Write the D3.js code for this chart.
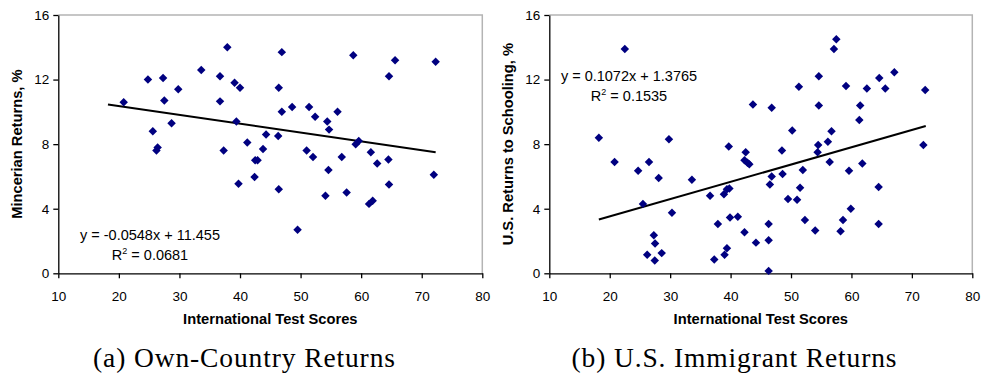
<!DOCTYPE html>
<html>
<head>
<meta charset="utf-8">
<script src="https://cdn.jsdelivr.net/npm/d3@7"></script>
<style>
  html, body { margin: 0; padding: 0; background: #fff; }
  svg { display: block; }
  text { font-family: "Liberation Sans", Arial, Helvetica, sans-serif; fill: #000; }
  .cap { font-family: "Liberation Serif", "Times New Roman", serif; }
</style>
</head>
<body>
<svg id="chart" width="982" height="383"></svg>
<script>
// ---------- data ----------
const xTicks = [10, 20, 30, 40, 50, 60, 70, 80];
const yTicks = [0, 4, 8, 12, 16];
const xDomain = [10, 80];
const yDomain = [0, 16];
const trendRange = [18.2, 72.3];

// Panel (a): Own-Country Returns
const ownX = [20.8, 24.8, 27.3, 29.8, 33.6, 36.7, 37.9, 39.1, 40.0, 27.5, 36.7, 28.7, 39.4, 25.6, 41.2,
  26.4, 26.2, 37.3, 46.9, 46.4, 58.7, 65.6, 72.3, 64.6, 46.9, 48.6, 51.4, 52.4, 56.1, 54.4,
  54.7, 44.3, 46.3, 43.8, 42.5, 42.9, 51.0, 52.05, 56.8, 59.1, 59.6, 61.6, 64.5, 39.75, 42.4,
  46.4, 54.6, 54.1, 57.6, 49.5, 62.65, 64.6, 61.3, 61.9, 72.0];
const ownY = [10.6, 12.0, 12.1, 11.4, 12.6, 12.2, 14.0, 11.8, 11.5, 10.7, 10.65, 9.3, 9.4, 8.8, 8.1,
  7.8, 7.6, 7.6, 13.7, 11.5, 13.5, 13.2, 13.1, 12.2, 10.0, 10.3, 10.3, 9.7, 10.0, 9.4,
  8.9, 8.6, 8.5, 7.7, 7.0, 7.0, 7.6, 7.2, 7.2, 8.0, 8.2, 7.5, 7.05, 5.55, 5.96,
  5.2, 6.4, 4.8, 5.0, 2.7, 6.8, 5.5, 4.3, 4.5, 6.1];
const ownFit = { slope: -0.0548, intercept: 11.455 };
const ownEq = ["y = -0.0548x + 11.455", "0.0681"];

// Panel (b): U.S. Immigrant Returns
const usX = [22.5, 18.2, 29.8, 39.7, 20.8, 24.7, 26.5, 28.1, 33.6, 36.6, 25.5, 30.3, 38.9, 39.4, 39.8,
  39.9, 41.2, 37.9, 27.3, 27.5, 26.2, 28.6, 27.45, 37.3, 39.0, 39.4, 42.5, 48.5, 54.5, 54.4,
  56.1, 71.9, 42.3, 42.8, 43.1, 56.4, 61.8, 51.95, 59.6, 48.6, 46.8, 46.5, 51.5, 64.5, 49.5,
  51.0, 59.9, 46.3, 52.3, 58.6, 64.5, 42.3, 54.0, 58.2, 44.2, 46.3, 46.3, 57.5, 57.1, 54.6,
  51.3, 59.1, 62.55, 64.6, 65.6, 67.1, 72.2, 43.7, 46.8, 54.6, 61.45, 61.3, 50.2, 56.7];
const usY = [13.9, 8.4, 8.3, 7.85, 6.9, 6.35, 6.9, 5.9, 5.8, 4.8, 4.3, 3.75, 4.9, 5.2, 5.25,
  3.45, 3.5, 3.05, 2.35, 1.85, 1.15, 1.25, 0.8, 0.85, 1.15, 1.55, 7.5, 7.6, 7.95, 7.5,
  8.15, 7.95, 7.0, 6.85, 6.75, 6.9, 6.8, 6.4, 6.35, 6.15, 6.0, 5.5, 5.3, 5.35, 4.6,
  4.55, 4.0, 3.05, 3.3, 3.3, 3.05, 2.55, 2.65, 2.6, 1.9, 2.05, 0.15, 14.5, 13.9, 12.2,
  11.55, 11.6, 11.45, 12.1, 11.45, 12.45, 11.35, 10.45, 10.25, 10.4, 10.4, 9.5, 8.85, 8.8];
const usFit = { slope: 0.1072, intercept: 1.3765 };
const usEq = ["y = 0.1072x + 1.3765", "0.1535"];

const xTitle = "International Test Scores";
const yTitles = ["Mincerian Returns, %", "U.S. Returns to Schooling, %"];
const captions = ["(a) Own-Country Returns", "(b) U.S. Immigrant Returns"];

// ---------- drawing ----------
const svg = d3.select("#chart");
const plotTop = 15, plotBottom = 273.3;

function panel(opt) {
  const g = svg.append("g");
  const x = d3.scaleLinear().domain(xDomain).range([opt.x0, opt.x1]);
  const y = d3.scaleLinear().domain(yDomain).range([plotBottom, plotTop]);

  // plot-area border (gray top & right)
  g.append("path")
    .attr("d", `M${x(xDomain[0])},${y(yDomain[1])}H${x(xDomain[1])}V${y(yDomain[0])}`)
    .attr("fill", "none").attr("stroke", "#b4b4b4").attr("stroke-width", 1.5);

  const ya = g.append("g").attr("transform", `translate(${x(xDomain[0])},0)`)
    .call(d3.axisLeft(y).tickValues(yTicks).tickSize(5).tickSizeOuter(0).tickPadding(4));
  const xa = g.append("g").attr("transform", `translate(0,${y(0)})`)
    .call(d3.axisBottom(x).tickValues(xTicks).tickSize(5).tickSizeOuter(0).tickPadding(13));
  [ya, xa].forEach(a => {
    a.selectAll("path, line").attr("stroke", "#000").attr("stroke-width", 1.3);
    a.selectAll("text").attr("font-size", 13.5).attr("fill", "#000")
      .attr("font-family", '"Liberation Sans", Arial, sans-serif');
  });

  // trend line
  g.append("line")
    .attr("x1", x(trendRange[0])).attr("y1", y(opt.fit.slope * trendRange[0] + opt.fit.intercept))
    .attr("x2", x(trendRange[1])).attr("y2", y(opt.fit.slope * trendRange[1] + opt.fit.intercept))
    .attr("stroke", "#000").attr("stroke-width", 2);

  // markers
  const sym = d3.symbol(d3.symbolSquare, 36);
  g.selectAll("path.pt").data(opt.xs.map((v, i) => [v, opt.ys[i]])).join("path")
    .attr("class", "pt")
    .attr("d", sym)
    .attr("transform", d => `translate(${x(d[0])},${y(d[1])}) rotate(45)`)
    .attr("fill", "#000080");

  // equation
  g.append("text").attr("x", opt.eqX).attr("y", opt.eqY)
    .attr("text-anchor", "middle").attr("font-size", 14.5).text(opt.eq[0]);
  const eq2 = g.append("text").attr("x", opt.eqX).attr("y", opt.eqY + 20)
    .attr("text-anchor", "middle").attr("font-size", 14.5);
  eq2.append("tspan").text("R");
  eq2.append("tspan").attr("dy", -6).attr("font-size", 9).text("2");
  eq2.append("tspan").attr("dy", 6).text(" = " + opt.eq[1]);

  // axis titles
  const cx = (opt.x0 + opt.x1) / 2;
  g.append("text").attr("x", cx).attr("y", 324.3).attr("text-anchor", "middle")
    .attr("font-size", 14.7).attr("font-weight", "bold").text(xTitle);
  g.append("text").attr("transform", `translate(${opt.yTitleX},${(plotTop + plotBottom) / 2}) rotate(-90)`)
    .attr("text-anchor", "middle").attr("font-size", 14.7).attr("font-weight", "bold").text(opt.yTitle);

  // caption
  g.append("text").attr("class", "cap").attr("x", opt.capX).attr("y", 367)
    .attr("text-anchor", "middle").attr("font-size", 27.5)
    .attr("textLength", opt.capW).attr("lengthAdjust", "spacing")
    .text(opt.caption);
}

panel({ x0: 58.3, x1: 482.3, xs: ownX, ys: ownY, fit: ownFit, eq: ownEq,
        eqX: 150, eqY: 239.5, yTitle: yTitles[0], yTitleX: 21.5,
        caption: captions[0], capX: 244, capW: 302 });
panel({ x0: 549.3, x1: 972.3, xs: usX, ys: usY, fit: usFit, eq: usEq,
        eqX: 629, eqY: 81, yTitle: yTitles[1], yTitleX: 512.5,
        caption: captions[1], capX: 734, capW: 325 });
</script>
</body>
</html>
